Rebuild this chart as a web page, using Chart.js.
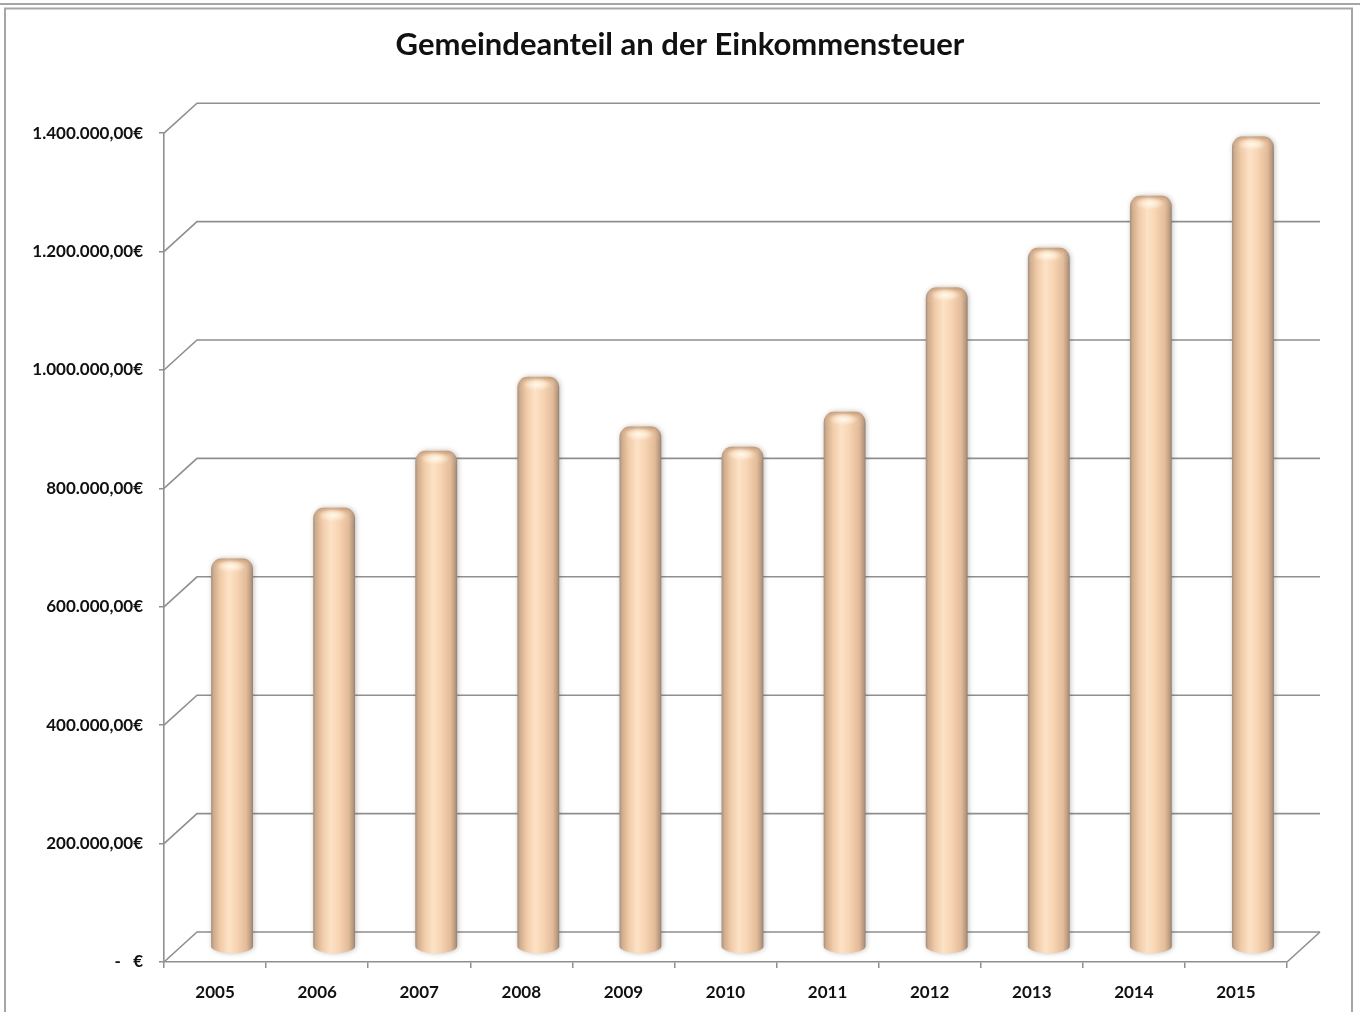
<!DOCTYPE html>
<html>
<head>
<meta charset="utf-8">
<script src="https://cdn.jsdelivr.net/npm/chart.js@4.4.1/dist/chart.umd.min.js"></script>
<style>
html,body{margin:0;padding:0;background:#fff;overflow:hidden}
#wrap{position:relative;width:1360px;height:1012px}
</style>
</head>
<body>
<div id="wrap"><canvas id="c"></canvas></div>
<script>
const chartTitle = 'Gemeindeanteil an der Einkommensteuer';
const years = ['2005','2006','2007','2008','2009','2010','2011','2012','2013','2014','2015'];
const values = [643000, 729000, 825000, 950000, 866000, 832000, 891000, 1101000, 1168000, 1256000, 1356000];
const yTickValues = [0, 200000, 400000, 600000, 800000, 1000000, 1200000, 1400000];
const yTickLabels = ['-   €', '200.000,00€', '400.000,00€', '600.000,00€', '800.000,00€', '1.000.000,00€', '1.200.000,00€', '1.400.000,00€'];

const DX = 33, DY = 30;          // depth of back wall
const BX = 17, BY = 15;          // bars sit at half depth
const GRID = '#8f8f8f';

const framePlugin = {
  id: 'frame',
  beforeDraw(chart) {
    const ctx = chart.ctx;
    ctx.save();
    ctx.fillStyle = '#fff';
    ctx.fillRect(0, 0, chart.width, chart.height);
    ctx.strokeStyle = '#a6a6a6';
    ctx.lineWidth = 2;
    ctx.beginPath();
    ctx.moveTo(0, 4); ctx.lineTo(chart.width, 4);
    ctx.stroke();
    ctx.beginPath();
    ctx.moveTo(5, chart.height + 5);
    ctx.lineTo(5, 8.5);
    ctx.lineTo(1352, 8.5);
    ctx.lineTo(1352, chart.height + 5);
    ctx.stroke();
    ctx.restore();
  }
};

const wallPlugin = {
  id: 'wall3d',
  beforeDatasetsDraw(chart) {
    const ctx = chart.ctx, ys = chart.scales.y, ca = chart.chartArea;
    ctx.save();
    ctx.strokeStyle = GRID;
    ctx.lineWidth = 1.6;
    yTickValues.forEach(v => {
      const y = ys.getPixelForValue(v);
      ctx.beginPath();
      ctx.moveTo(ca.left, y);
      ctx.lineTo(ca.left + DX, y - DY);
      ctx.lineTo(ca.right + DX, y - DY);
      ctx.stroke();
    });
    const y0 = ys.getPixelForValue(0);
    ctx.beginPath();
    ctx.moveTo(ca.right, y0);
    ctx.lineTo(ca.right + DX, y0 - DY);
    ctx.stroke();
    ctx.restore();
  }
};

const cylinderPlugin = {
  id: 'cylinders',
  afterDatasetsDraw(chart) {
    const ctx = chart.ctx;
    const meta = chart.getDatasetMeta(0);
    meta.data.forEach(el => {
      const p = el.getProps(['x', 'y', 'base', 'width'], true);
      const cx = p.x + BX;
      const r = p.width / 2;
      const top = p.y - BY - 8;
      const base = p.base - BY;
      const ry = 7, rc = 11;
      const path = () => {
        ctx.beginPath();
        ctx.moveTo(cx - r, base);
        ctx.lineTo(cx - r, top + rc);
        ctx.ellipse(cx - r + rc, top + rc, rc, rc, 0, Math.PI, 1.5 * Math.PI);
        ctx.lineTo(cx + r - rc, top);
        ctx.ellipse(cx + r - rc, top + rc, rc, rc, 0, 1.5 * Math.PI, 2 * Math.PI);
        ctx.lineTo(cx + r, base);
        ctx.ellipse(cx, base, r, ry, 0, 0, Math.PI, false);
        ctx.closePath();
      };
      const g = ctx.createLinearGradient(cx - r, 0, cx + r, 0);
      g.addColorStop(0, '#a38f7e');
      g.addColorStop(0.06, '#cfab8c');
      g.addColorStop(0.22, '#f0cba8');
      g.addColorStop(0.42, '#fde2c6');
      g.addColorStop(0.6, '#f8d5b3');
      g.addColorStop(0.84, '#e3bc9a');
      g.addColorStop(0.95, '#b99a80');
      g.addColorStop(1, '#928070');
      ctx.save();
      ctx.shadowColor = 'rgba(80,70,60,0.35)';
      ctx.shadowBlur = 5;
      ctx.shadowOffsetX = 1;
      path();
      ctx.fillStyle = g;
      ctx.fill();
      ctx.restore();

      // dome shading
      ctx.save();
      path();
      ctx.clip();
      const vg = ctx.createLinearGradient(0, top, 0, top + 16);
      vg.addColorStop(0, 'rgba(150,110,80,0.55)');
      vg.addColorStop(0.35, 'rgba(200,160,125,0.15)');
      vg.addColorStop(1, 'rgba(255,255,255,0)');
      ctx.fillStyle = vg;
      ctx.fillRect(cx - r, top, 2 * r, 16);
      // highlight
      ctx.translate(cx - 1, top + 8);
      ctx.scale(1, 0.42);
      const rg = ctx.createRadialGradient(0, 0, 0, 0, 0, 15);
      rg.addColorStop(0, 'rgba(255,250,236,1)');
      rg.addColorStop(0.5, 'rgba(255,240,220,0.7)');
      rg.addColorStop(1, 'rgba(255,235,210,0)');
      ctx.fillStyle = rg;
      ctx.beginPath();
      ctx.arc(0, 0, 15, 0, 2 * Math.PI);
      ctx.fill();
      ctx.restore();
    });
  }
};

new Chart(document.getElementById('c'), {
  type: 'bar',
  data: {
    labels: years,
    datasets: [{
      label: chartTitle,
      data: values,
      backgroundColor: 'rgba(0,0,0,0)',
      borderWidth: 0,
      categoryPercentage: 1,
      barPercentage: 0.41
    }]
  },
  options: {
    responsive: true,
    maintainAspectRatio: false,
    animation: false,
    events: [],
    layout: { padding: { left: 0, right: 0, top: 0, bottom: 0 } },
    plugins: {
      legend: { display: false },
      tooltip: { enabled: false },
      title: {
        display: true,
        text: chartTitle,
        color: '#111',
        font: { family: 'Lato', size: 31, weight: 'bold' },
        padding: { top: 26, bottom: 70 }
      }
    },
    scales: {
      x: {
        afterFit(s) { s.height = 50; },
        grid: { offset: true, drawOnChartArea: false, drawTicks: true, tickLength: 6, color: GRID, lineWidth: 1.5 },
        border: { color: GRID, width: 1.6 },
        ticks: { color: '#111', padding: 14, font: { family: 'Lato', size: 17, weight: 'bold' } }
      },
      y: {
        min: 0,
        max: 1400000,
        afterFit(s) { s.width = 164; },
        afterBuildTicks(s) { s.ticks = yTickValues.map(v => ({ value: v })); },
        grid: { drawOnChartArea: false, drawTicks: true, tickLength: 5, color: GRID, lineWidth: 1.5 },
        border: { color: GRID, width: 1.6 },
        ticks: {
          color: '#111',
          padding: 16,
          font: { family: 'Lato', size: 17, weight: 'bold' },
          callback: (v) => yTickLabels[yTickValues.indexOf(v)]
        }
      },
      yRight: {
        position: 'right',
        display: true,
        afterFit(s) { s.width = 73; },
        grid: { display: false, drawTicks: false },
        border: { display: false },
        ticks: { display: false }
      }
    }
  },
  plugins: [framePlugin, wallPlugin, cylinderPlugin]
});
</script>
</body>
</html>
